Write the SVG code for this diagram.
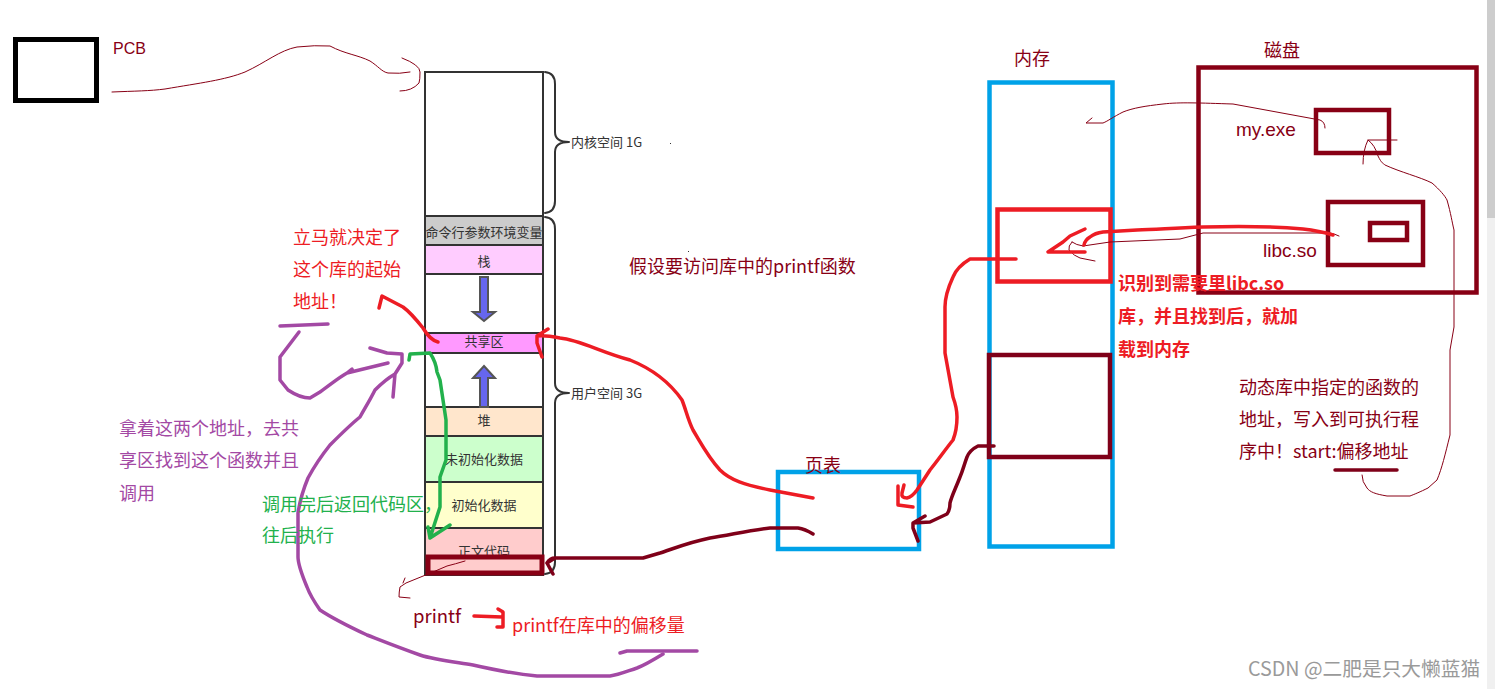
<svg xmlns="http://www.w3.org/2000/svg" width="1495" height="689" viewBox="0 0 1495 689">
<style>
text{font-family:"Noto Sans CJK SC","Liberation Sans",sans-serif;font-size:18px}
.lat{font-family:"Liberation Sans","Noto Sans CJK SC",sans-serif;font-size:19px}
.s{font-size:13px;fill:#333;text-anchor:middle}
.d{font-size:13px;fill:#333}
.dr{fill:#880015}.r{fill:#ed1c24}.p{fill:#a349a4}.g{fill:#22b14c}
.cell{stroke:#333;stroke-width:2}
.l{fill:none;stroke-linecap:round;stroke-linejoin:round}
.thin{stroke:#880015;stroke-width:1}
.rd{stroke:#ed1c24;stroke-width:3.500}
.dk{stroke:#7f0019;stroke-width:3.500}
.pu{stroke:#a349a4;stroke-width:3.500}
.gr{stroke:#22b14c;stroke-width:3.500}
.br{stroke:#333;stroke-width:2}
.ar{fill:#6666ee;stroke:#555;stroke-width:2}
</style>
<rect width="1495" height="689" fill="#fff"/>
<rect x="1487" y="0" width="8" height="689" fill="#f0f0f0"/>
<rect x="1487" y="0" width="8" height="218" fill="#cdcdcd"/>

<g id="pcb"><rect x="15.500" y="39.500" width="81" height="61" fill="none" stroke="#000" stroke-width="5"/><text x="113" y="54" class="dr lat" style="font-size:16px">PCB</text></g>

<g id="address-space">
<rect class="cell" x="425" y="72" width="118" height="144" fill="#fff"/>
<rect class="cell" x="425" y="216" width="118" height="29" fill="#ccc"/>
<rect class="cell" x="425" y="245" width="118" height="29" fill="#fcf"/>
<rect class="cell" x="425" y="274" width="118" height="59" fill="#fff"/>
<rect class="cell" x="425" y="333" width="118" height="20" fill="#f9f"/>
<rect class="cell" x="425" y="353" width="118" height="54" fill="#fff"/>
<rect class="cell" x="425" y="407" width="118" height="29" fill="#ffe6cc"/>
<rect class="cell" x="425" y="436" width="118" height="46" fill="#cfc"/>
<rect class="cell" x="425" y="482" width="118" height="46" fill="#ffc"/>
<rect class="cell" x="425" y="528" width="118" height="47" fill="#fcc"/>
<text class="s" x="484" y="237">命令行参数环境变量</text>
<text class="s" x="484" y="266">栈</text>
<text class="s" x="484" y="346">共享区</text>
<text class="s" x="484" y="425">堆</text>
<text class="s" x="484" y="464">未初始化数据</text>
<text class="s" x="484" y="510">初始化数据</text>
<text class="s" x="484" y="556">正文代码</text>
<path class="ar" d="M480 277H488V312H495L484 321L473 312H480Z"/>
<path class="ar" d="M484 366L495 378H488V407H480V378H473Z"/>
<rect x="428" y="557" width="114" height="16" fill="none" stroke="#880015" stroke-width="5"/>
</g>

<g id="kernel-brace"><path class="l br" d="M545 72Q555 73 555 84V132Q555 142 569 142Q555 142 555 152V201Q555 212 545 213"/><text class="d" x="571" y="147">内核空间 1G</text></g>
<g id="user-brace"><path class="l br" d="M545 217Q555 218 555 229V383Q555 393 569 393Q555 393 555 403V562Q555 573 545 574"/><text class="d" x="571" y="398">用户空间 3G</text></g>

<g id="page-table"><rect x="778" y="472" width="141" height="77" fill="none" stroke="#00a2e8" stroke-width="4.500"/><text x="805" y="472" class="dr">页表</text></g>

<g id="memory">
<rect x="989.500" y="82.500" width="123" height="464" fill="none" stroke="#00a2e8" stroke-width="4.500"/>
<rect x="997.500" y="209.500" width="113" height="72" fill="none" stroke="#ed1c24" stroke-width="4.500"/>
<rect x="989" y="355" width="121" height="102" fill="none" stroke="#7f0019" stroke-width="4.500"/>
<text x="1014" y="65" class="dr">内存</text>
</g>

<g id="disk">
<rect x="1198.500" y="67.500" width="278" height="225" fill="none" stroke="#880015" stroke-width="4.500"/>
<rect x="1316" y="110" width="73" height="43" fill="none" stroke="#880015" stroke-width="4.500"/>
<rect x="1328" y="202" width="95" height="63" fill="none" stroke="#880015" stroke-width="4.500"/>
<rect x="1370" y="223" width="37" height="17" fill="none" stroke="#880015" stroke-width="4.500"/>
<text x="1264" y="57" class="dr">磁盘</text>
<text x="1236" y="136" class="dr lat">my.exe</text>
<text x="1263" y="257" class="dr lat">libc.so</text>
</g>

<g id="connectors">
<path class="l thin" d="M112 92C135 91 150 91 165 89C200 83 225 80 245 72C265 63 280 50 297 47Q315 45 330 46C345 54 358 55 370 61C378 66 382 72 388 73Q400 74 410 72M402 58Q420 65 420 72Q420 80 419 83Q412 91 400 91"/>
<path class="l thin" d="M1325 128Q1325 122 1320 120L1233 104C1200 103 1180 102 1163 104C1145 106 1133 108 1123 112C1113 117 1108 121 1103 123H1086L1092 118"/>
<path class="l thin" d="M1397 140H1368Q1363 150 1363 164M1368 140Q1375 145 1378 156C1382 164 1383 163 1385 165C1400 172 1420 177 1432 183C1440 190 1445 196 1447 200C1451 214 1452 222 1454 230V327L1450 350V435C1445 455 1442 468 1437 480L1428 488C1420 492 1415 494 1410 496H1387C1375 494 1370 492 1367 488Q1362 482 1362 475"/>
<path class="l thin" d="M1339 236Q1335 234 1330 233H1203L1180 239L1110 242L1083 246M1072 242Q1068 246 1069 250Q1074 256 1080 258L1095 261M1083 246Q1076 245 1072 242"/>
<path class="l thin" d="M465 561Q455 564 447 566L433 572L406 583L400 587Q399 592 399 597L410 598M403 583L405 578"/>
<path class="l rd" d="M1333 235C1320 231 1312 230 1303 229C1270 226 1235 226 1203 227C1170 228 1155 230 1137 230L1103 232Q1095 233 1090 237Q1085 240 1084 245"/>
<path class="l rd" d="M1085 229L1070 236L1063 242L1048 252H1085"/>
<path class="l rd" d="M1016 259H970C960 265 955 272 953 277C947 290 945 298 945 307V353L953 397Q957 408 957 417Q957 430 953 440C945 450 938 460 930 470L917 490Q912 497 907 498Q901 498 902 493L904 485M898 486V505L913 507"/>
<path class="l dk" d="M994 446H978C972 449 969 452 967 457C964 465 963 470 960 477C955 490 952 495 950 503Q950 510 947 514L930 522L913 523M925 516L913 523L913 528L918 541"/>
<path class="l dk" d="M813 534Q805 529 798 528H770C750 530 730 535 710 538C690 542 675 548 660 553L643 558H555L547 563L553 574M555 558Q550 558 547 563"/>
<path class="l rd" d="M813 498L770 490C745 485 730 480 720 470C708 457 702 445 693 430C688 420 686 410 682 400C668 380 650 368 630 360C600 352 580 340 560 338Q545 335 537 336L548 329M537 336V343L542 357"/>
<path class="l rd" d="M438 342Q430 340 423 328C415 318 410 312 403 307L382 296L379 308"/>
<path class="l rd" d="M474 616L502 617M498 609L503 612V627H497"/>
<path class="l gr" d="M409 360L410 354L430 353Q436 362 437 372L440 380L446 420V460L440 477V507L430 538L450 525M428 527L430 538"/>
<path class="l pu" d="M663 654C650 662 645 665 637 668C625 672 618 675 610 676H537C515 674 495 670 473 665C455 662 435 660 420 655C400 648 385 642 367 635C350 627 335 620 320 610C313 600 310 595 307 587C302 575 298 565 298 557V513C300 500 303 490 308 478C315 465 322 455 330 445C340 435 350 425 360 417C365 408 370 400 375 390C382 383 388 378 395 374M393 397L395 374L402 363V354L387 353L370 348"/>
<path class="l pu" d="M299 332L280 357V380L288 390Q300 398 310 398L320 392C330 385 338 378 347 373L388 363M352 369L347 373"/>
<path class="l pu" d="M280 326L328 324M620 653L627 651H697"/>
<path class="l dk" d="M1335 470H1397" stroke-width="2"/>
</g>

<g id="labels">
<text x="293" y="244" class="r">立马就决定了</text><text x="293" y="276" class="r">这个库的起始</text><text x="293" y="308" class="r">地址！</text>
<text x="119" y="435" class="p">拿着这两个地址，去共</text><text x="119" y="467" class="p">享区找到这个函数并且</text><text x="119" y="500" class="p">调用</text>
<text x="262" y="511" class="g">调用完后返回代码区，</text><text x="262" y="542" class="g">往后执行</text>
<text x="629" y="273" class="dr">假设要访问库中的printf函数</text>
<text x="413" y="623" class="dr" style="font-size:18.500px">printf</text>
<text x="512" y="632" class="r">printf在库中的偏移量</text>
<text x="1118" y="290" class="r" font-weight="700">识别到需要里libc.so</text><text x="1118" y="323" class="r" font-weight="700">库，并且找到后，就加</text><text x="1118" y="356" class="r" font-weight="700">载到内存</text>
<text x="1239" y="394" class="dr">动态库中指定的函数的</text><text x="1239" y="426" class="dr">地址，写入到可执行程</text><text x="1239" y="458" class="dr">序中！start:偏移地址</text>
<text x="1248" y="676" style="fill:#9a9a9a;font-size:19.700px">CSDN @二肥是只大懒蓝猫</text>
</g>
<rect x="670" y="143" width="1" height="1" fill="#333"/><rect x="688" y="251" width="1" height="1" fill="#333"/>
</svg>
